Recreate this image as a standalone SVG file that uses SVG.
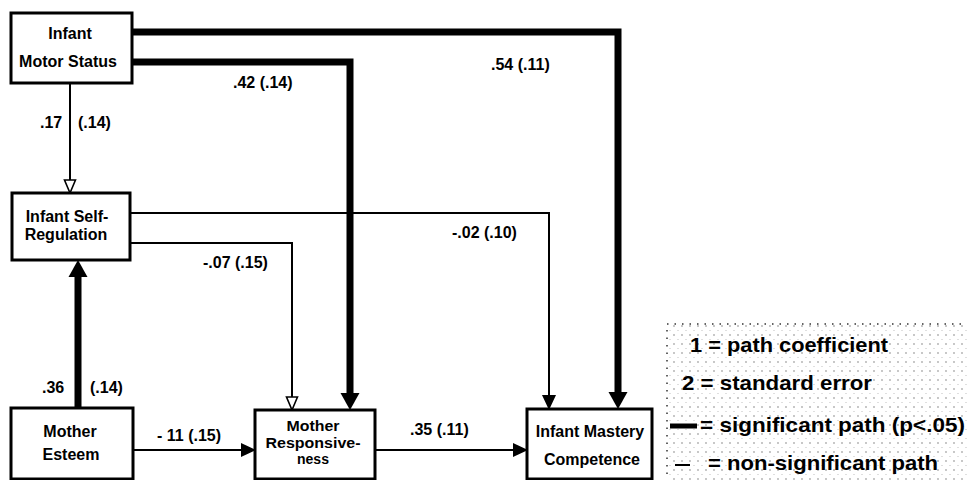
<svg xmlns="http://www.w3.org/2000/svg" width="967" height="480" viewBox="0 0 967 480">
  <defs>
    <style>
      .box{fill:#fff;stroke:#000;stroke-width:3}
      .nl{font-family:"Liberation Sans",Arial,Helvetica,sans-serif;font-weight:bold;font-size:16px;text-anchor:middle;fill:#000}
      .nls{font-family:"Liberation Sans",Arial,Helvetica,sans-serif;font-weight:bold;font-size:14px;text-anchor:middle;fill:#000}
      .el{font-family:"Liberation Sans",Arial,Helvetica,sans-serif;font-weight:bold;font-size:16px;fill:#000}
      .lg{font-family:"Liberation Sans",Arial,Helvetica,sans-serif;font-weight:bold;font-size:21px;fill:#000}
      .thick{fill:none;stroke:#000;stroke-width:7}
      .thin{fill:none;stroke:#000;stroke-width:2}
    </style>
    <!-- heavy filled head for significant paths -->
    <marker id="headThick" markerUnits="userSpaceOnUse" markerWidth="18" markerHeight="19" refX="9" refY="9.5" orient="auto" overflow="visible">
      <path d="M0,0 L17,9.5 L0,19 z" fill="#000"/>
    </marker>
    <!-- filled head for thin paths -->
    <marker id="headThin" markerUnits="userSpaceOnUse" markerWidth="15" markerHeight="14" refX="13" refY="7" orient="auto" overflow="visible">
      <path d="M0,0 L15,7 L0,14 z" fill="#000"/>
    </marker>
    <!-- open head for thin paths -->
    <marker id="headOpen" markerUnits="userSpaceOnUse" markerWidth="15" markerHeight="13" refX="13" refY="6.5" orient="auto" overflow="visible">
      <path d="M1,1 L14,6.5 L1,12 z" fill="#fff" stroke="#000" stroke-width="1.6"/>
    </marker>
    <!-- stippled legend background -->
    <pattern id="stipple" width="8" height="9" patternUnits="userSpaceOnUse">
      <circle cx="2" cy="2" r="0.7" fill="#666"/>
      <circle cx="6" cy="6.5" r="0.5" fill="#aaa"/>
    </pattern>
  </defs>

  <!-- connectors -->
  <g id="connectors">
    <!-- Infant Motor Status -> Infant Mastery Competence -->
    <path class="thick" d="M132,32 H618 V401" marker-end="url(#headThick)"/>
    <!-- Infant Motor Status -> Mother Responsiveness -->
    <path class="thick" d="M132,62 H350 V402" marker-end="url(#headThick)"/>
    <!-- Infant Motor Status -> Infant Self-Regulation -->
    <path class="thin" d="M70,83 V192" marker-end="url(#headOpen)"/>
    <!-- Infant Self-Regulation -> Infant Mastery Competence -->
    <path class="thin" d="M130,213 H549 V408" marker-end="url(#headThin)"/>
    <!-- Infant Self-Regulation -> Mother Responsiveness -->
    <path class="thin" d="M130,243 H292 V409" marker-end="url(#headOpen)"/>
    <!-- Mother Esteem -> Infant Self-Regulation -->
    <path class="thick" d="M78,408 V268" marker-end="url(#headThick)"/>
    <!-- Mother Esteem -> Mother Responsiveness -->
    <path class="thin" d="M133,450 H254" marker-end="url(#headThin)"/>
    <!-- Mother Responsiveness -> Infant Mastery Competence -->
    <path class="thin" d="M375,450 H526" marker-end="url(#headThin)"/>

    <!-- path coefficients (standard errors) -->
    <text class="el" x="40" y="128">.17</text>
    <text class="el" x="78" y="128">(.14)</text>
    <text class="el" x="233" y="88">.42 (.14)</text>
    <text class="el" x="491" y="70">.54 (.11)</text>
    <text class="el" x="452" y="238">-.02 (.10)</text>
    <text class="el" x="203" y="268">-.07 (.15)</text>
    <text class="el" x="42" y="393">.36</text>
    <text class="el" x="90" y="393">(.14)</text>
    <text class="el" x="157" y="441">- 11 (.15)</text>
    <text class="el" x="410" y="435">.35 (.11)</text>
  </g>

  <!-- nodes -->
  <g id="infant-motor-status">
    <rect class="box" x="11" y="13" width="121" height="70"/>
    <text class="nl" x="70" y="39">Infant</text>
    <text class="nl" x="68" y="67">Motor Status</text>
  </g>
  <g id="infant-self-regulation">
    <rect class="box" x="12" y="193" width="118" height="67"/>
    <text class="nl" x="67" y="222">Infant Self-</text>
    <text class="nl" x="66" y="240">Regulation</text>
  </g>
  <g id="mother-esteem">
    <rect class="box" x="11" y="408" width="122" height="71"/>
    <text class="nl" x="70" y="437">Mother</text>
    <text class="nl" x="71" y="460">Esteem</text>
  </g>
  <g id="mother-responsiveness">
    <rect class="box" x="255" y="410" width="120" height="69"/>
    <text class="nls" x="313" y="431" textLength="53" lengthAdjust="spacingAndGlyphs">Mother</text>
    <text class="nls" x="313" y="447.5" textLength="95" lengthAdjust="spacingAndGlyphs">Responsive-</text>
    <text class="nls" x="313" y="464">ness</text>
  </g>
  <g id="infant-mastery-competence">
    <rect class="box" x="527" y="409" width="125" height="70"/>
    <text class="nl" x="590" y="437">Infant Mastery</text>
    <text class="nl" x="592" y="465">Competence</text>
  </g>

  <!-- legend -->
  <g id="legend">
    <rect x="667" y="324" width="310" height="170" fill="url(#stipple)" stroke="#333" stroke-width="1.5" stroke-dasharray="1.5 6"/>
    <text class="lg" x="690" y="352" textLength="198" lengthAdjust="spacingAndGlyphs">1 = path coefficient</text>
    <text class="lg" x="682" y="390" textLength="190" lengthAdjust="spacingAndGlyphs">2 = standard error</text>
    <line x1="670" y1="426" x2="697" y2="426" stroke="#000" stroke-width="5"/>
    <text class="lg" x="700" y="432" textLength="265" lengthAdjust="spacingAndGlyphs">= significant path (p&lt;.05)</text>
    <line x1="675" y1="465" x2="690" y2="465" stroke="#000" stroke-width="2"/>
    <text class="lg" x="708" y="470" textLength="230" lengthAdjust="spacingAndGlyphs">= non-significant path</text>
  </g>
</svg>
